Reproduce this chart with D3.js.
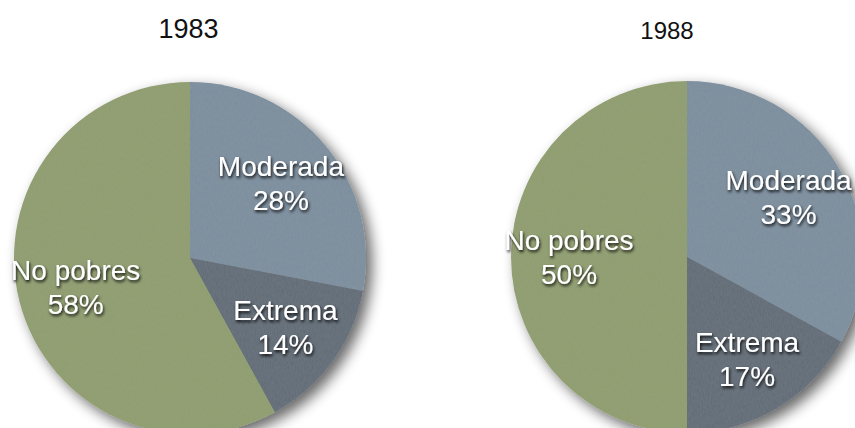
<!DOCTYPE html>
<html>
<head>
<meta charset="utf-8">
<script src="https://cdn.jsdelivr.net/npm/d3@7"></script>
<style>
  html, body { margin: 0; padding: 0; background: #ffffff; }
  svg { display: block; }
</style>
</head>
<body>
<div id="chart"></div>
<script>
// ---- data ----
const categories = ["Moderada", "Extrema", "No pobres"];
const years = ["1983", "1988"];
const values1983 = [28, 14, 58];
const values1988 = [33, 17, 50];
const seriesValues = [values1983, values1988];

// ---- layout / style ----
const W = 855, H = 428;
const R = 176;
const labelR = 118;
const pieCenters = [[190, 258], [687, 257]];
const titleLayout = [{dx: -1.5, y: 38, size: 27}, {dx: -20, y: 39, size: 24}];
const colors = ["#7a8d9e", "#5f6a76", "#8e9d6d"];

const svg = d3.select("#chart").append("svg")
  .attr("width", W).attr("height", H);

const defs = svg.append("defs");
const shadow = defs.append("filter").attr("id", "pieShadow")
  .attr("x", "-20%").attr("y", "-20%").attr("width", "140%").attr("height", "140%");
shadow.append("feGaussianBlur").attr("in", "SourceAlpha").attr("stdDeviation", 7).attr("result", "b");
shadow.append("feOffset").attr("in", "b").attr("dx", 6).attr("dy", 6).attr("result", "o");
shadow.append("feComponentTransfer").attr("in", "o").attr("result", "s")
  .append("feFuncA").attr("type", "linear").attr("slope", 0.6);
const m = shadow.append("feMerge");
m.append("feMergeNode").attr("in", "s");
m.append("feMergeNode").attr("in", "SourceGraphic");

// subtle texture
const tex = defs.append("filter").attr("id", "texture")
  .attr("x", "0%").attr("y", "0%").attr("width", "100%").attr("height", "100%");
tex.append("feTurbulence").attr("type", "fractalNoise").attr("baseFrequency", "0.9 0.25")
  .attr("numOctaves", 2).attr("seed", 3).attr("result", "noise");
tex.append("feColorMatrix").attr("in", "noise").attr("type", "matrix")
  .attr("values", "0 0 0 0 0.5  0 0 0 0 0.5  0 0 0 0 0.5  0 0 0 0.12 0").attr("result", "n2");
tex.append("feComposite").attr("in", "n2").attr("in2", "SourceGraphic").attr("operator", "in").attr("result", "n3");
const tm = tex.append("feMerge");
tm.append("feMergeNode").attr("in", "SourceGraphic");
tm.append("feMergeNode").attr("in", "n3");

const textShadow = defs.append("filter").attr("id", "textShadow")
  .attr("x", "-20%").attr("y", "-40%").attr("width", "140%").attr("height", "180%");
textShadow.append("feGaussianBlur").attr("in", "SourceAlpha").attr("stdDeviation", 1.6).attr("result", "b");
textShadow.append("feOffset").attr("in", "b").attr("dx", 1).attr("dy", 2).attr("result", "o");
textShadow.append("feComponentTransfer").attr("in", "o").attr("result", "s")
  .append("feFuncA").attr("type", "linear").attr("slope", 0.9);
const tsm = textShadow.append("feMerge");
tsm.append("feMergeNode").attr("in", "s");
tsm.append("feMergeNode").attr("in", "SourceGraphic");

const pie = d3.pie().sort(null).value(d => d);
const arc = d3.arc().innerRadius(0).outerRadius(R);
const labelArc = d3.arc().innerRadius(labelR).outerRadius(labelR);
const color = d3.scaleOrdinal().domain(categories).range(colors);

seriesValues.forEach((vals, i) => {
  const [cx, cy] = pieCenters[i];
  const g = svg.append("g").attr("transform", `translate(${cx},${cy})`);
  const arcs = pie(vals).map((a, k) => Object.assign(a, {cat: categories[k]}));

  const slices = g.append("g").attr("filter", "url(#pieShadow)")
    .append("g").attr("filter", "url(#texture)");
  slices.selectAll("path").data(arcs).join("path")
    .attr("d", arc)
    .attr("fill", d => color(d.cat));

  const labels = g.append("g").attr("filter", "url(#textShadow)")
    .selectAll("text").data(arcs).join("text")
    .attr("transform", d => `translate(${labelArc.centroid(d)})`)
    .attr("text-anchor", "middle")
    .attr("font-family", "'Liberation Sans', Arial, Helvetica, sans-serif")
    .attr("font-size", 28)
    .attr("fill", "#ffffff");
  labels.append("tspan").attr("x", 0).attr("y", -7).text(d => d.cat);
  labels.append("tspan").attr("x", 0).attr("y", 27).text(d => d.data + "%");

  const t = titleLayout[i];
  svg.append("text")
    .attr("x", cx + t.dx).attr("y", t.y)
    .attr("text-anchor", "middle")
    .attr("font-family", "'Liberation Sans', Arial, Helvetica, sans-serif")
    .attr("font-size", t.size)
    .attr("fill", "#111111")
    .text(years[i]);
});
</script>
</body>
</html>
